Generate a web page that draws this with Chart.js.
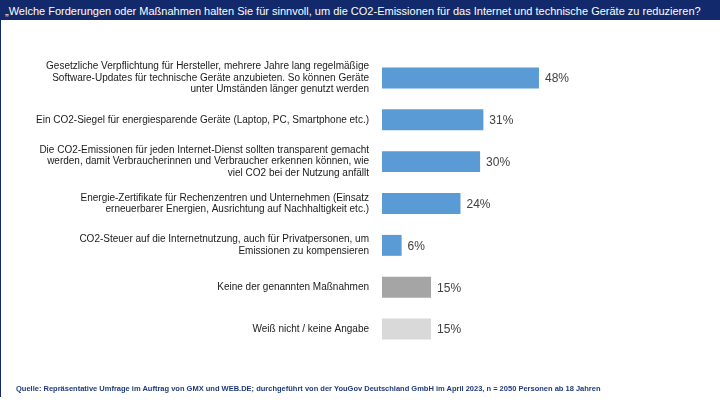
<!DOCTYPE html>
<html>
<head>
<meta charset="utf-8">
<script src="https://cdn.jsdelivr.net/npm/chart.js@4"></script>
<style>
	body { margin: 0; width: 720px; height: 405px; overflow: hidden; background: #fff; position: relative; font-family: 'Liberation Sans', Arial, sans-serif; }
	#head { position: absolute; left: 0; top: 0; width: 715px; height: 20px; padding-left: 5px; background: #12296b; color: #fff; font-size: 11px; line-height: 22px; white-space: nowrap; }
	#edge { position: absolute; left: 0; top: 20px; width: 1px; height: 377px; background: #12296b; }
	#foot { position: absolute; left: 16px; top: 384px; font-size: 7.5px; font-weight: bold; color: #1f3a7a; white-space: nowrap; }
	canvas { position: absolute; left: 0; top: 0; }
</style>
</head>
<body>
<div id="head">„Welche Forderungen oder Maßnahmen halten Sie für sinnvoll, um die CO2-Emissionen für das Internet und technische Geräte zu reduzieren?</div>
<div id="edge"></div>
<canvas id="chart" width="720" height="405"></canvas>
<div id="foot">Quelle: Repräsentative Umfrage im Auftrag von GMX und WEB.DE; durchgeführt von der YouGov Deutschland GmbH im April 2023, n = 2050 Personen ab 18 Jahren</div>

<script>
const kategorien = [
	['Gesetzliche Verpflichtung für Hersteller, mehrere Jahre lang regelmäßige', 'Software-Updates für technische Geräte anzubieten. So können Geräte', 'unter Umständen länger genutzt werden'],
	'Ein CO2-Siegel für energiesparende Geräte (Laptop, PC, Smartphone etc.)',
	['Die CO2-Emissionen für jeden Internet-Dienst sollten transparent gemacht', 'werden, damit Verbraucherinnen und Verbraucher erkennen können, wie', 'viel CO2 bei der Nutzung anfällt'],
	['Energie-Zertifikate für Rechenzentren und Unternehmen (Einsatz', 'erneuerbarer Energien, Ausrichtung auf Nachhaltigkeit etc.)'],
	['CO2-Steuer auf die Internetnutzung, auch für Privatpersonen, um', 'Emissionen zu kompensieren'],
	'Keine der genannten Maßnahmen',
	'Weiß nicht / keine Angabe',
];
const anteile = [48, 31, 30, 24, 6, 15, 15];
const farben = ['#5b9bd5', '#5b9bd5', '#5b9bd5', '#5b9bd5', '#5b9bd5', '#a5a5a5', '#d9d9d9'];

const werteLabels = {
	id: 'werteLabels',
	afterDatasetsDraw(chart) {
		const ctx = chart.ctx;
		const meta = chart.getDatasetMeta(0);
		ctx.save();
		ctx.font = '12px "Liberation Sans", Arial, sans-serif';
		ctx.fillStyle = '#404040';
		ctx.textBaseline = 'middle';
		ctx.textAlign = 'left';
		meta.data.forEach((bar, i) => {
			ctx.fillText(anteile[i] + '%', bar.x + 6, bar.y + 1);
		});
		ctx.restore();
	},
};

new Chart(document.getElementById('chart'), {
	type: 'bar',
	data: {
		labels: kategorien,
		datasets: [
			{
				data: anteile,
				backgroundColor: farben,
				borderWidth: 0,
				barPercentage: 0.5,
				categoryPercentage: 1,
			},
		],
	},
	options: {
		indexAxis: 'y',
		responsive: false,
		animation: false,
		events: [],
		layout: {
			padding: { top: 57, bottom: 55, right: 11, left: 0 },
		},
		plugins: {
			legend: { display: false },
			tooltip: { enabled: false },
		},
		scales: {
			x: {
				display: false,
				min: 0,
				max: 100,
			},
			y: {
				afterFit(scale) {
					scale.width = 382;
				},
				grid: { display: false, drawTicks: false },
				border: { display: false },
				ticks: {
					padding: 13,
					color: '#1a1a1a',
					font: {
						family: 'Liberation Sans',
						size: 10,
						lineHeight: 1.15,
					},
				},
			},
		},
	},
	plugins: [werteLabels],
});
</script>
</body>
</html>
